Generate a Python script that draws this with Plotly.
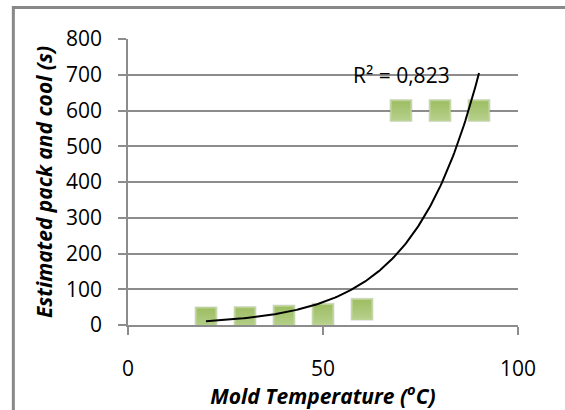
import numpy as np
import plotly.graph_objects as go

# Mold temperature (°C) and estimated pack + cool time (s)
mold_temp = [20, 30, 40, 50, 60, 70, 80, 90]
pack_cool = [20, 21, 25, 30, 44, 600, 600, 600]

# coefficient of determination printed next to the trendline
r_squared = 0.823

x_ticks = [0, 50, 100]
y_ticks = [0, 100, 200, 300, 400, 500, 600, 700, 800]

# Exponential trendline y = a*exp(b*x), fitted on log values
xs = np.array(mold_temp, dtype=float)
ys = np.array(pack_cool, dtype=float)
b, ln_a = np.polyfit(xs, np.log(ys), 1)
fit_x = np.linspace(xs.min(), xs.max(), 200)
fit_y = np.exp(ln_a + b * fit_x)

FONT = "Open Sans"
GRID = "#8c8c8c"

fig = go.Figure()

# soft shadow under the markers
fig.add_trace(go.Scatter(
    x=mold_temp, y=pack_cool, mode="markers", hoverinfo="skip",
    marker=dict(symbol="square", size=23, color="rgba(120,120,120,0.22)",
                line=dict(width=0)),
    showlegend=False,
))
fig.add_trace(go.Scatter(
    x=mold_temp, y=pack_cool, mode="markers",
    marker=dict(symbol="square", size=20, color="#9dbd62",
                gradient=dict(type="vertical", color="#b6d08b"),
                line=dict(color="#bbd494", width=1.5)),
    showlegend=False,
))
fig.add_trace(go.Scatter(
    x=fit_x, y=fit_y, mode="lines",
    line=dict(color="black", width=2),
    showlegend=False,
))

fig.add_annotation(
    x=70, y=700, text="R² = " + f"{r_squared:.3f}".replace(".", ","),
    showarrow=False, xanchor="center", yanchor="middle",
    font=dict(family=FONT, size=21, color="black"),
)

# chart frame
fig.add_shape(type="rect", xref="paper", yref="paper",
              x0=-0.294, x1=1.5, y0=-0.5, y1=1.11,
              line=dict(color="#888888", width=3), layer="below")

axis_font = dict(family=FONT, size=21, color="black")
fig.update_layout(
    width=565, height=410,
    margin=dict(l=128, r=47, t=39, b=85),
    paper_bgcolor="white", plot_bgcolor="white",
    xaxis=dict(
        range=[0, 100], tickvals=x_ticks, ticktext=[str(v) for v in x_ticks],
        showgrid=False, zeroline=False,
        showline=True, linecolor=GRID, linewidth=1.5,
        ticks="outside", ticklen=8, tickcolor=GRID, tickwidth=1.5,
        tickfont=axis_font, ticklabelstandoff=16,
        title=dict(text="<b><i>Mold Temperature (<sup>o</sup>C)</i></b>",
                   font=dict(family=FONT, size=21, color="black"), standoff=0),
    ),
    yaxis=dict(
        range=[0, 800], tickvals=y_ticks, ticktext=[str(v) for v in y_ticks],
        showgrid=True, gridcolor=GRID, gridwidth=1.5, zeroline=False,
        showline=True, linecolor=GRID, linewidth=1.5,
        ticks="outside", ticklen=8, tickcolor=GRID, tickwidth=1.5,
        tickfont=axis_font, ticklabelstandoff=12,
        title=dict(text="<b><i>Estimated pack and cool (s)</i></b>",
                   font=dict(family=FONT, size=21, color="black"), standoff=8),
    ),
)

fig.write_html("out.html")
